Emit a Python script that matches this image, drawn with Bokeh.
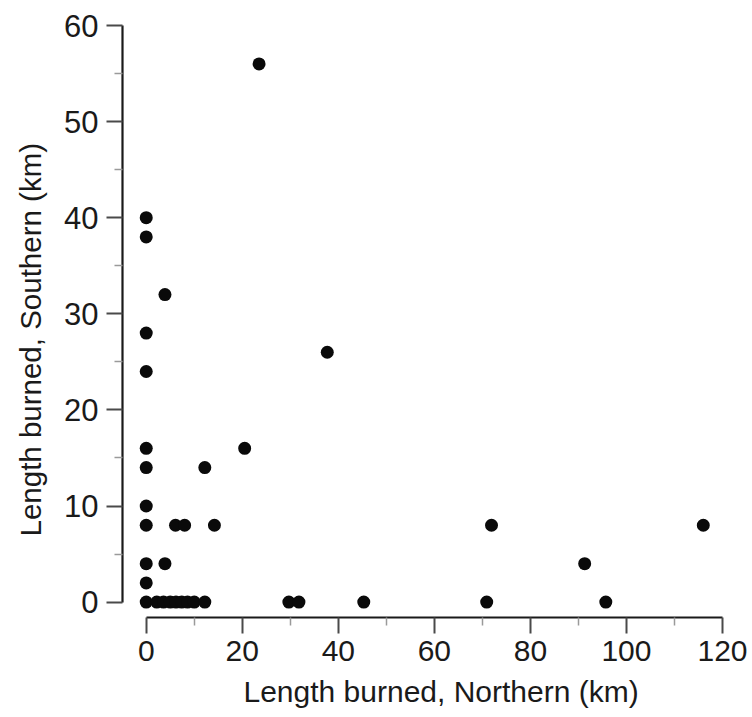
from bokeh.plotting import figure
from bokeh.models import Range1d, FixedTicker, ColumnDataSource, Title
from bokeh.embed import file_html
from bokeh.resources import INLINE

# Data (km)
north_km = [23.5, 0, 0, 3.9, 0, 37.7, 0, 0, 20.5, 0, 12.2, 0, 0, 6.1, 8.0, 14.2,
            71.9, 116.0, 0, 3.9, 91.3, 0,
            0, 2.2, 3.6, 5.0, 6.2, 7.4, 8.6, 10.0, 12.2, 29.7, 31.8, 45.3, 70.9, 95.7]
south_km = [56, 40, 38, 32, 28, 26, 24, 16, 16, 14, 14, 10, 8, 8, 8, 8,
            8, 8, 4, 4, 4, 2,
            0, 0, 0, 0, 0, 0, 0, 0, 0, 0, 0, 0, 0, 0]

x_ticks = [0, 20, 40, 60, 80, 100, 120]
y_ticks = [0, 10, 20, 30, 40, 50, 60]
x_title = "Length burned, Northern (km)"
y_title = "Length burned, Southern (km)"

x_minor = [(a + b) / 2 for a, b in zip(x_ticks[:-1], x_ticks[1:])]
y_minor = [(a + b) / 2 for a, b in zip(y_ticks[:-1], y_ticks[1:])]

p = figure(width=750, height=717, output_backend="svg", toolbar_location=None,
           x_range=Range1d(-4.94, 120), y_range=Range1d(-1.6, 60),
           min_border_left=122, min_border_right=28, min_border_top=25,
           min_border_bottom=100)
p.outline_line_color = None
p.grid.visible = False
p.background_fill_color = "white"
p.border_fill_color = "white"

src = ColumnDataSource(dict(x=north_km, y=south_km))
p.scatter("x", "y", source=src, size=13, fill_color="#0a0a0a", line_color=None)

p.xaxis.ticker = FixedTicker(ticks=x_ticks, minor_ticks=x_minor)
p.yaxis.ticker = FixedTicker(ticks=y_ticks, minor_ticks=y_minor)
p.xaxis.bounds = (x_ticks[0], x_ticks[-1])
p.yaxis.bounds = (y_ticks[0], y_ticks[-1])

for ax in (p.xaxis, p.yaxis):
    ax.axis_line_color = "#1a1a1a"
    ax.axis_line_width = 2.2
    ax.major_tick_line_color = "#4a4a4a"
    ax.major_tick_line_width = 2
    ax.minor_tick_line_color = "#9a9a9a"
    ax.minor_tick_line_width = 1.5
    ax.major_tick_out = 16
    ax.major_tick_in = 0
    ax.minor_tick_out = 8
    ax.minor_tick_in = 0
    ax.major_label_text_font = "Liberation Sans"
    ax.major_label_text_color = "#1a1a1a"

p.xaxis.major_label_text_font_size = "30px"
p.xaxis.major_label_standoff = 7
p.yaxis.major_label_text_font_size = "31px"
p.yaxis.major_label_standoff = 8

# Axis titles as side titles, offset to where the reference places them
p.add_layout(Title(text=x_title, align="left", offset=121, vertical_align="bottom",
                   standoff=19, text_font="Liberation Sans", text_font_size="30px",
                   text_font_style="normal", text_color="#1a1a1a"), "below")
p.add_layout(Title(text=y_title, align="left", offset=81, vertical_align="top",
                   standoff=25, text_font="Liberation Sans", text_font_size="29.5px",
                   text_font_style="normal", text_color="#1a1a1a"), "left")

open("out.html", "w").write(file_html(p, INLINE))
